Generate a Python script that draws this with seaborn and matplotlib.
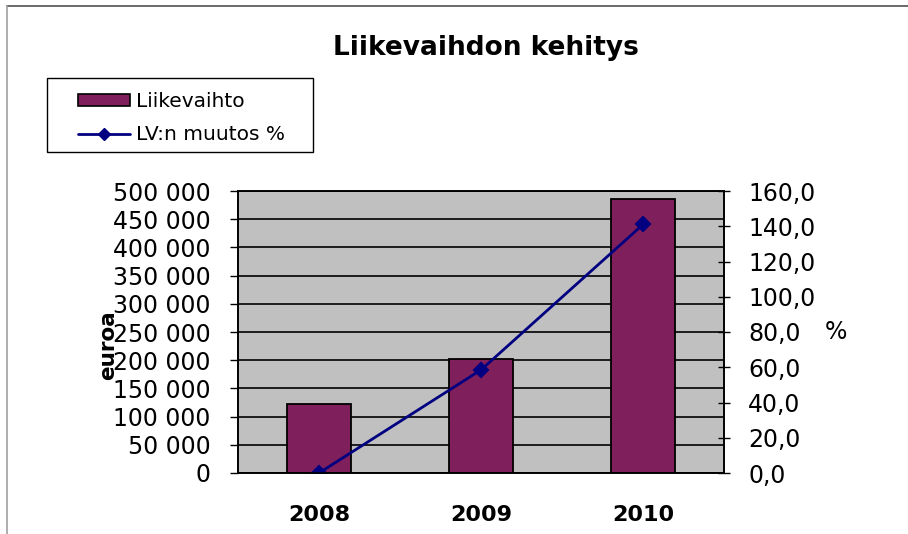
import seaborn as sns
import pandas as pd
import matplotlib.pyplot as plt
from matplotlib.lines import Line2D
from matplotlib.patches import Patch, Rectangle

vuodet = ["2008", "2009", "2010"]
liikevaihto = [122000, 202000, 485000]
muutos = [0.0, 58.5, 141.0]

BAR = "#7f1f5c"
LINE = "#000080"

if __name__ == "__main__":
    df = pd.DataFrame({"vuosi": vuodet, "liikevaihto": liikevaihto, "muutos": muutos})

    sns.set_style("white")
    plt.rcParams["font.family"] = ["DejaVu Sans"]
    plt.rcParams["text.color"] = "black"
    plt.rcParams["xtick.color"] = "black"
    plt.rcParams["ytick.color"] = "black"

    fig = plt.figure(figsize=(9.08, 5.34), dpi=100)
    ax = fig.add_axes([238 / 908, 61 / 534, 486 / 908, 282 / 534])
    ax.set_facecolor("#c0c0c0")

    sns.barplot(data=df, x="vuosi", y="liikevaihto", color=BAR, saturation=1,
                width=0.4, edgecolor="black", linewidth=1.3, ax=ax)
    ax.set_ylim(0, 500000)
    ax.set_yticks(range(0, 500001, 50000))
    ax.yaxis.set_major_formatter(plt.FuncFormatter(lambda v, _: f"{int(v):,}".replace(",", " ")))
    ax.grid(axis="y", color="black", linewidth=1.2)
    ax.set_axisbelow(True)
    ax.set_xlabel("")
    ax.set_ylabel("")

    # ticks between the categories
    ax.set_xticks([-0.5, 0.5, 1.5, 2.5], minor=True)
    ax.tick_params(axis="x", which="major", length=0, pad=23, labelsize=16, labelcolor="black")
    ax.tick_params(axis="x", which="minor", direction="inout", length=11.5, width=1, color="black")
    ax.tick_params(axis="y", direction="out", length=5.8, width=1, color="black", pad=14,
                   labelsize=17, labelcolor="black")
    for lab in ax.get_xticklabels():
        lab.set_fontweight("bold")
    for s in ax.spines.values():
        s.set_color("black")
        s.set_linewidth(1.2)

    ax2 = ax.twinx()
    sns.pointplot(data=df, x="vuosi", y="muutos", color=LINE, markers="D",
                  markersize=7, linewidth=2, errorbar=None, ax=ax2)
    ax2.set_ylim(0, 160)
    ax2.set_xlim(-0.5, 2.5)
    ax2.set_yticks(range(0, 161, 20))
    ax2.yaxis.set_major_formatter(plt.FuncFormatter(lambda v, _: f"{v:.1f}".replace(".", ",")))
    ax2.tick_params(axis="y", direction="inout", length=8.6, width=1, color="black", pad=13,
                    labelsize=17, labelcolor="black")
    ax2.set_ylabel("")
    for s in ax2.spines.values():
        s.set_color("black")
        s.set_linewidth(1.2)

    fig.text(486 / 908, 1 - 48 / 534, "Liikevaihdon kehitys", ha="center", va="center",
             fontsize=19, fontweight="bold", color="black")
    fig.text(108 / 908, 1 - 345 / 534, "euroa", rotation=90, ha="center", va="center",
             fontsize=15.5, fontweight="bold", color="black")
    fig.text(836 / 908, 1 - 332 / 534, "%", ha="center", va="center", fontsize=17, color="black")

    # legend box
    fig.add_artist(Rectangle((47 / 908, 1 - 152 / 534), 266 / 908, 74 / 534,
                             transform=fig.transFigure, facecolor="white",
                             edgecolor="black", linewidth=1))
    handles = [
        Patch(facecolor=BAR, edgecolor="black", linewidth=1.2, label="Liikevaihto"),
        Line2D([], [], color=LINE, marker="D", markersize=6, linewidth=2, label="LV:n muutos %"),
    ]
    leg = fig.legend(handles=handles, loc="upper left", bbox_to_anchor=(78 / 908, 1 - 92 / 534),
                     bbox_transform=fig.transFigure, fontsize=14.5, frameon=False,
                     handlelength=2.6, handletextpad=0.3, handleheight=0.5,
                     labelspacing=0.7, borderpad=0, borderaxespad=0)

    # outer chart frame
    fig.add_artist(Line2D([7 / 908, 1], [1 - 6 / 534, 1 - 6 / 534], color="#505050", linewidth=1.2))
    fig.add_artist(Line2D([7 / 908, 7 / 908], [0, 1 - 6 / 534], color="#a0a0a0", linewidth=1.2))

    fig.savefig("out.png", dpi=100)
